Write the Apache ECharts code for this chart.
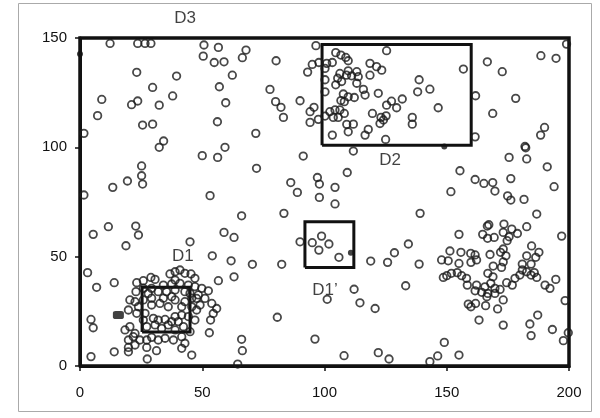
<!DOCTYPE html>
<html>
<head>
<meta charset="utf-8">
<script src="https://cdn.jsdelivr.net/npm/echarts@6/dist/echarts.min.js"></script>
<style>
  html, body { margin: 0; padding: 0; background: #fff; }
  #chart { width: 600px; height: 418px; }
</style>
</head>
<body>
<div id="chart"></div>
<script>
// tick values
var xTicks = [0, 50, 100, 150, 200];
var yTicks = [0, 50, 100, 150];

// hollow points
var pointsTop = [
  [12.3,147.5],[23.6,147.5],[26.6,147.5],[29.0,147.5],[50.7,146.8],[50.4,141.7],[23.2,134.3],[39.5,132.6],
  [29.7,127.4],[8.9,121.9],[37.9,123.5],[23.6,121.2],[21.1,119.5],[32.4,119.3],[7.2,114.5],[25.6,110.2],
  [29.7,110.6],[1.6,106.4],[34.2,102.9],[32.4,100],
  [56.6,145.7],[54.9,138.8],[58.9,139.1],[67.9,144.5],[66.4,141],[80.2,139.6],[62.3,133],[57.0,127.7],
  [77.7,126.5],[59.6,120.4],[80.0,120.9],[82.2,118.3],[83.2,113.7],[90,121.3],[95.7,118.3],[94.1,116.3],
  [94.1,111.4],[97.5,112.8],[56.2,111.7],[71.9,106.4],[59.3,100],[96.5,146.5],[95.0,137.9],[93.1,134.4],[97.7,138.8]
];
var pointsD2 = [
  [125.4,144.2],[104.6,143.3],[106.7,142.2],[108.7,141.1],[109.7,139.6],[100.9,138.4],[103.2,138.8],[100.2,136.1],
  [118.6,138.4],[121.3,136.9],[123.4,135.3],[118.6,133],[106.3,133.8],[109.7,135.0],[113.2,134.6],[109,133],
  [111.1,132.7],[113.8,132.3],[105.4,131.6],[104.6,128.6],[107,130.1],[113.2,129.3],[100.2,130.9],[100.2,125.4],
  [115.9,126.5],[116.6,123.9],[122,124.7],[107.7,124.4],[109.7,123.1],[112.2,122.8],[106.7,121.4],[108.1,120.9],
  [138.7,130.9],[138.1,125.4],[143.1,126.6],[146.5,118.1],[131.8,122.1],[127.4,121.1],[125.4,119.3],[129.5,118.1],
  [104.3,117.1],[106.3,117.1],[102.2,116.3],[103.6,113.7],[105.6,113.7],[108.1,115.5],[100.2,114.3],[119.6,115.5],
  [123.1,113.7],[125.2,114.4],[122.7,110.9],[124.1,112.5],[135.9,113.7],[135.9,110.6],[109.1,110.5],[111.8,110.6],
  [109.7,107.1],[103.2,105.6],[117.9,108.2],[116.6,105.6],[125.0,103.6],[111.8,98.3],
  [199,147.2],[188.5,141.9],[194.7,140.7],[166.6,139.1],[172.7,134.6],[156.8,135.8],[161.8,123.6],[178.2,122.4],
  [168.8,115.5],[190,109.1],[188.4,105.6],[161.6,104.8],[182,100.4]
];
var pointsMid = [
  [50,96.2],[25.2,91.5],[25.2,87.0],[25.6,83.2],[19.4,84.6],[13.4,81.7],[1.6,78.2],[11.6,63.7],[5.4,60.2],
  [22.8,64.0],[23.9,59.9],[18.8,55.0],[45,56.8],
  [56.3,95.4],[91.3,96.0],[72.2,90.4],[86.2,83.9],[88.9,79.4],[97.1,86.2],[97.9,83.2],[97.9,77.1],[53.2,77.9],
  [66.1,68.7],[83.4,69.8],[58.9,61.1],[63,58.8],[54.1,50.4],[61.8,48.1],[90,56.8],[95,56.4],[98.8,59.4],
  [97.7,53.0],[70.5,46.5],[82.5,46.5],
  [109.3,88.5],[104.3,81.7],[104.3,74.1],[139.1,69.8],[101.8,55.8],[105.9,49.7],[134.3,55.8],[128.6,51.8],
  [118.9,48.0],[125.8,47.4],[138.7,46.6],[147.9,48.5]
];
var pointsRight = [
  [182.3,99.8],[175.5,95.4],[182.7,94.7],[191.1,91.1],[155.4,89.3],[161.6,85.3],[165.2,83.5],[168.8,83.9],
  [176.2,85.7],[169.7,80.0],[193.9,82.0],[151.7,79.7],[174.9,77.8],[176.2,75.9],[181.6,76.2],[186.8,69.5],
  [166.6,64.0],[167.2,64.6],[173.4,64.9],[176.6,62.6],[182.7,63.7],[155,60.2],[164.7,60.2],[166.7,58.4],[169.4,58.8],
  [173.1,61.1],[175.5,59.1],[178.9,60.6],[174.7,57.3],[197,59.4],[184.7,54.9],[187.7,52.0],[186.4,49.7],
  [182.7,50.4],[173.1,53.5],[172.0,52.0],[174.2,50.4],[167.7,51.0],[159.8,51.5],[161.6,50.8],[162.2,48.5],
  [155.8,52.0],[151.3,52.6],[150.6,48.1],[159.9,47.4],[155,46.9],[173.1,47.6],[180.9,46.6],[184.5,46.6],
  [169,45.7],[172.4,45.1],
  [150,41.3],[151.9,42.4],[154.3,42.7],[156.1,41.3],[158.1,40.1],[158.4,37.0],[162.2,37.0],[161.6,34.4],
  [164.3,33.7],[165.6,36.2],[166.8,42.4],[168.9,40.8],[168,37.8],[166.8,33.2],[166.4,31.7],[169.7,35.5],
  [171.8,35.0],[169.7,33.2],[174.5,38.1],[176.8,37.0],[177.9,40.1],[179.9,41.6],[180.9,43.9],[182.7,43.1],
  [184.5,41.6],[185.8,42.7],[186.8,40.5],[190.2,37.0],[192.2,35.5],[194.6,39.6],[158.8,28.3],[159.9,27.1],
  [161.8,28.6],[165.9,27.6],[173.1,30.2],[170.8,26.1],[163.2,21.0],[173.1,18.7],[187.2,23.3],[184.0,19.2],
  [184.5,13.9],[193.2,16.7],[198.4,29.9],[199.7,15.2],[197.7,11.6],[149,10.8],[146.3,4.6],[155,5.0]
];
var pointsLow = [
  [148.6,40.5],[112.1,35.1],[133.2,36.7],[101.1,30.5],[114.5,28.9],[120.7,26.3],[96.1,12.3],[108,4.7],
  [122,6.1],[126.4,3.2],[143.1,2.0],
  [63,40.8],[56.6,39.0],[49.8,35.5],[52.5,34.4],[47.7,30.9],[51.1,30.9],[53.9,28.6],[49.1,27.9],[55.9,26.3],
  [54.5,24.0],[53.4,21.0],[52.9,15.2],[66.1,12.2],[66.4,7.0],[64.5,0.9],[80.7,22.3],[47.7,25.6],
  [3.1,42.7],[6.8,36.0],[14,38.1],[4.5,21.3],[5.4,17.5],[4.5,4.3],[14,6.5],[19.8,6.5],[27.5,3.2],[31.3,7.0],
  [45.7,5.0],[23.2,38.1],[22.9,34.0]
];
var pointsD1 = [
  [25.9,39.0],[29.0,40.5],[30.7,39.6],[36.8,42.1],[38.9,43.1],[40.9,43.9],[42.9,42.4],[45.4,42.1],[47.0,40.1],
  [38.9,39.3],[25.9,35.5],[29.3,35.5],[34.1,37.0],[37.5,37.5],[40.9,37.8],[44.3,37.0],[47.0,36.3],[32.0,34.0],
  [35.4,34.0],[38.9,34.75],[42.9,34.0],[45.0,33.2],[27.9,33.2],[20.4,30.2],[22.5,29.4],[25.9,30.2],[29.3,31.0],
  [34.1,31.0],[37.5,31.7],[38.9,30.2],[42.9,29.4],[45.7,31.0],[48.4,32.5],[23.9,27.1],[29.3,27.9],[32.7,28.6],
  [36.1,27.1],[41.6,27.1],[45.7,27.1],[19.8,25.6],[23.2,24.1],[26.6,24.1],[30.0,21.8],[32.0,21.0],[34.8,21.3],
  [38.9,22.6],[41.6,23.3],[44.3,22.6],[47.0,21.0],[25.9,21.0],[37.5,20.3],[18.4,16.5],[20.4,18.0],[22.5,14.9],
  [27.3,18.0],[30.7,18.8],[33.4,17.2],[36.1,18.8],[38.9,16.5],[42.3,18.0],[45.0,15.7],[40.2,20.3],[19.8,11.9],
  [21.8,13.4],[24.5,11.9],[27.3,11.9],[29.3,13.1],[32.0,11.9],[34.8,12.7],[38.2,11.9],[41.6,13.4],[42.9,10.4],
  [19.8,8.5],[22.5,9.6],[41.6,8.1],[27.3,8.5]
];
// solid dots
var pointsSolid = [[0,142.7],[149,100.4],[110.8,51.8]];
var pointsBlob = [[15.7,23.3]];

// rectangles: [xmin, xmax, ymin, ymax]
var boxNames = ['D3', 'D2', "D1’", 'D1'];
var boxes = [[0, 200, 0, 150], [99, 160, 101, 147], [92, 112, 45, 66], [25.4, 45, 15.5, 36]];
var boxWidths = [3.5, 3, 3, 3];
var labelPos = [[43, 159], [126.8, 94.2], [100.2, 34.8], [42.1, 50.3]];

var allPoints = [].concat(pointsTop, pointsD2, pointsMid, pointsRight, pointsLow, pointsD1);

var chart = echarts.init(document.getElementById('chart'));

var series = [];
boxes.forEach(function (b, i) {
  series.push({
    type: 'line',
    name: boxNames[i],
    data: [[b[0], b[2]], [b[1], b[2]], [b[1], b[3]], [b[0], b[3]], [b[0], b[2]]],
    symbol: 'none',
    clip: false,
    lineStyle: { color: '#111', width: boxWidths[i], join: 'miter' },
    z: 3
  });
});
series.push({
  type: 'scatter',
  data: allPoints,
  symbol: 'circle',
  symbolSize: 7.5,
  itemStyle: { color: 'rgba(0,0,0,0)', borderColor: '#1a1a1a', borderWidth: 1.8 },
  z: 4
});
series.push({
  type: 'scatter',
  data: pointsSolid,
  symbolSize: 6,
  itemStyle: { color: '#111' },
  z: 5
});
series.push({
  type: 'scatter',
  data: pointsBlob,
  symbol: 'roundRect',
  symbolSize: [11, 8],
  itemStyle: { color: '#111' },
  z: 5
});
series.push({
  type: 'scatter',
  data: boxNames.map(function (n, i) { return { name: n, value: labelPos[i] }; }),
  symbolSize: 0,
  clip: false,
  label: {
    show: true,
    position: 'inside',
    formatter: '{b}',
    color: '#111',
    fontFamily: 'Liberation Sans, Arial, sans-serif',
    fontSize: 17
  },
  z: 6
});

var option = {
  animation: false,
  backgroundColor: '#fff',
  grid: { left: 80, right: 31, top: 38, bottom: 52 },
  xAxis: {
    type: 'value',
    min: xTicks[0],
    max: xTicks[xTicks.length - 1],
    interval: 50,
    splitLine: { show: false },
    axisLine: { show: true, lineStyle: { color: '#111', width: 3 } },
    axisTick: { show: true, length: 5, lineStyle: { color: '#111', width: 1.5 } },
    axisLabel: { color: '#111', fontSize: 15, margin: 19, fontFamily: 'Liberation Sans, Arial, sans-serif' }
  },
  yAxis: {
    type: 'value',
    min: yTicks[0],
    max: yTicks[yTicks.length - 1],
    interval: 50,
    splitLine: { show: false },
    axisLine: { show: true, lineStyle: { color: '#111', width: 3 } },
    axisTick: { show: true, length: 5, lineStyle: { color: '#111', width: 1.5 } },
    axisLabel: { color: '#111', fontSize: 15, margin: 13, fontFamily: 'Liberation Sans, Arial, sans-serif' }
  },
  graphic: [{
    type: 'rect',
    shape: { x: 18.5, y: 3.5, width: 573, height: 408 },
    style: { fill: 'none', stroke: '#aaa', lineWidth: 1 },
    silent: true
  }],
  series: series
};

chart.setOption(option);
window.addEventListener('resize', function () {
  chart.resize();
});
</script>
</body>
</html>
